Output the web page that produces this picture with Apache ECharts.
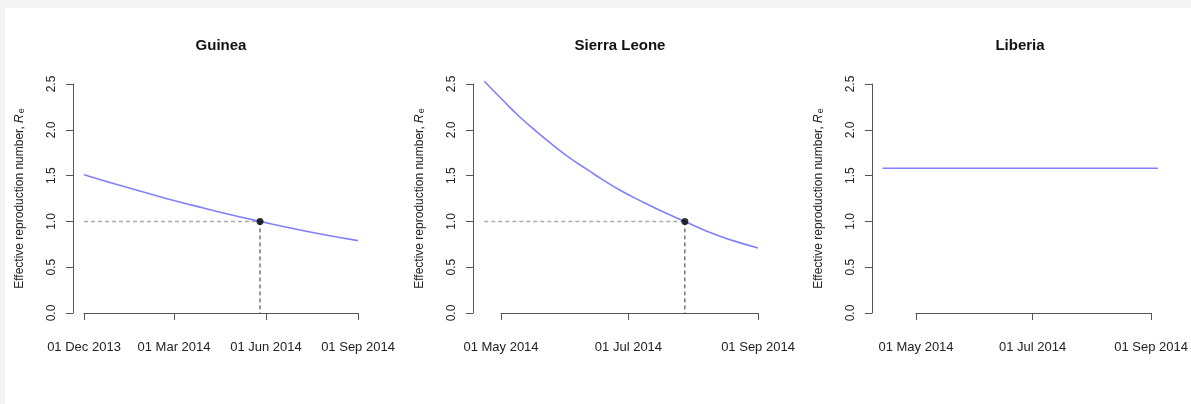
<!DOCTYPE html>
<html>
<head>
<meta charset="utf-8">
<title>Effective reproduction number</title>
<script src="https://cdn.jsdelivr.net/npm/echarts@6/dist/echarts.min.js"></script>
<style>
  body { margin: 0; background: #f4f4f4; }
  #frame { position: absolute; left: 5px; top: 8px; width: 1186px; height: 396px; background: #fff; }
  #main { position: absolute; left: 0; top: 0; width: 1191px; height: 404px; }
</style>
</head>
<body>
<div id="frame"></div>
<div id="main"></div>
<script>
// data
const titles = ['Guinea', 'Sierra Leone', 'Liberia'];

const guineaDates = ['2013-12-01', '2014-01-10', '2014-02-25', '2014-03-20', '2014-04-16', '2014-05-26', '2014-07-15', '2014-09-01'];
const guineaR = [1.51, 1.38, 1.24, 1.175, 1.10, 1.0, 0.885, 0.79];
const guineaCross = ['2014-05-26', 1.0];

const sierraDates = ['2014-04-23', '2014-05-02', '2014-05-10', '2014-05-18', '2014-05-26', '2014-06-03', '2014-06-11', '2014-06-19', '2014-06-27', '2014-07-08', '2014-07-18', '2014-07-28', '2014-08-10', '2014-08-20', '2014-09-01'];
const sierraR = [2.53, 2.32, 2.14, 1.98, 1.83, 1.69, 1.57, 1.45, 1.34, 1.21, 1.10, 1.0, 0.87, 0.79, 0.71];
const sierraCross = ['2014-07-28', 1.0];

const liberiaDates = ['2014-04-14', '2014-09-01'];
const liberiaR = [1.58, 1.58];

const guineaTicks = ['2013-12-01', '2014-03-01', '2014-06-01', '2014-09-01'];
const sierraTicks = ['2014-05-01', '2014-07-01', '2014-09-01'];
const liberiaTicks = ['2014-05-01', '2014-07-01', '2014-09-01'];
const yTicks = [0, 0.5, 1.0, 1.5, 2.0, 2.5];

const MONTHS = ['Jan', 'Feb', 'Mar', 'Apr', 'May', 'Jun', 'Jul', 'Aug', 'Sep', 'Oct', 'Nov', 'Dec'];
const FONT = 'Liberation Sans, Arial, sans-serif';
const TEXT = '#222';
const AXIS = '#555';

function fmtDate(v) {
  const d = new Date(v);
  return String(d.getUTCDate()).padStart(2, '0') + ' ' + MONTHS[d.getUTCMonth()] + ' ' + d.getUTCFullYear();
}
function pts(dates, vals) {
  return dates.map((d, i) => [Date.parse(d), vals[i]]);
}

// axis boxes (px): x axis runs first tick -> last tick, y axis 0 -> 2.5
const TOP = 84, HEIGHT = 229;
const boxes = [
  { left: 84, width: 274, yOff: 11, cx: 221 },
  { left: 501, width: 257, yOff: 28, cx: 620 },
  { left: 916, width: 242, yOff: 44, cx: 1020 }
];
const tickSets = [guineaTicks, sierraTicks, liberiaTicks];
const dateSets = [guineaDates, sierraDates, liberiaDates];

// R draws data outside the tick range, so each panel gets a second, hidden
// grid on the same scale that covers the whole data range
const Y_LO = -0.1, Y_HI = 2.7;
const dataBoxes = boxes.map((b, i) => {
  const t = tickSets[i].map(d => Date.parse(d));
  const dd = dateSets[i].map(d => Date.parse(d));
  const lo = Math.min(t[0], dd[0]);
  const hi = Math.max(t[t.length - 1], dd[dd.length - 1]);
  const pxMs = b.width / (t[t.length - 1] - t[0]);
  const pxY = HEIGHT / (yTicks[yTicks.length - 1] - yTicks[0]);
  return {
    min: lo, max: hi,
    left: b.left - (t[0] - lo) * pxMs,
    width: (hi - lo) * pxMs,
    top: TOP - (Y_HI - yTicks[yTicks.length - 1]) * pxY,
    height: (Y_HI - Y_LO) * pxY
  };
});

const option = {
  animation: false,
  textStyle: { fontFamily: FONT },
  title: titles.map((t, i) => ({
    text: t, left: boxes[i].cx, top: 38, textAlign: 'center', padding: 0,
    textStyle: { fontSize: 15, fontWeight: 'bold', color: '#111', fontFamily: FONT }
  })),
  grid: boxes.map(b => ({ left: b.left, top: TOP, width: b.width, height: HEIGHT }))
    .concat(dataBoxes.map(d => ({ left: d.left, top: d.top, width: d.width, height: d.height }))),
  xAxis: tickSets.map((ticks, i) => {
    const vals = ticks.map(d => Date.parse(d));
    return {
      type: 'value', gridIndex: i,
      min: vals[0], max: vals[vals.length - 1],
      offset: 10,
      axisLine: { lineStyle: { color: AXIS, width: 1 } },
      axisTick: { length: 7, customValues: vals, lineStyle: { color: AXIS } },
      axisLabel: { customValues: vals, formatter: fmtDate, margin: 18, fontSize: 13, color: TEXT, fontFamily: FONT },
      splitLine: { show: false }
    };
  }).concat(dataBoxes.map((d, i) => ({
    type: 'value', gridIndex: 3 + i, min: d.min, max: d.max, show: false
  }))),
  yAxis: boxes.map((b, i) => ({
    type: 'value', gridIndex: i, min: yTicks[0], max: yTicks[yTicks.length - 1], interval: 0.5,
    offset: b.yOff,
    name: 'Effective reproduction number, {i|R}{s|e}',
    nameLocation: 'middle', nameRotate: 90, nameGap: 47,
    nameTextStyle: {
      fontSize: 12, color: TEXT, fontFamily: FONT,
      rich: {
        i: { fontSize: 12, fontStyle: 'italic', color: TEXT, fontFamily: FONT },
        s: { fontSize: 9, color: TEXT, fontFamily: FONT, verticalAlign: 'bottom', padding: [3, 0, 0, 1] }
      }
    },
    axisLine: { show: true, lineStyle: { color: AXIS, width: 1 } },
    axisTick: { show: true, length: 7, lineStyle: { color: AXIS } },
    axisLabel: { rotate: 90, margin: 15, fontSize: 12, color: TEXT, fontFamily: FONT, formatter: v => v.toFixed(1) },
    splitLine: { show: false }
  })).concat(dataBoxes.map((d, i) => ({
    type: 'value', gridIndex: 3 + i, min: Y_LO, max: Y_HI, show: false
  }))),
  series: []
};

function curve(i, data) {
  return {
    type: 'line', xAxisIndex: 3 + i, yAxisIndex: 3 + i, data, showSymbol: false,
    smooth: 0.5, z: 2,
    lineStyle: { color: '#8080ff', width: 1.6 }
  };
}
function crossing(i, startDate, cross) {
  const cx = Date.parse(cross[0]);
  const ax = { xAxisIndex: 3 + i, yAxisIndex: 3 + i };
  return [
    Object.assign({
      type: 'line', showSymbol: false, z: 1,
      data: [[Date.parse(startDate), cross[1]], [cx, cross[1]]],
      lineStyle: { color: '#aaa', width: 1.5, type: [4, 3] }
    }, ax),
    Object.assign({
      type: 'line', showSymbol: false, z: 1,
      data: [[cx, cross[1]], [cx, yTicks[0]]],
      lineStyle: { color: '#333', width: 1, type: [4, 3] }
    }, ax),
    Object.assign({
      type: 'scatter', symbolSize: 7, z: 3,
      data: [[cx, cross[1]]], itemStyle: { color: '#000' }
    }, ax)
  ];
}

option.series.push(curve(0, pts(guineaDates, guineaR)));
option.series.push(...crossing(0, guineaDates[0], guineaCross));
option.series.push(curve(1, pts(sierraDates, sierraR)));
option.series.push(...crossing(1, sierraDates[0], sierraCross));
option.series.push(curve(2, pts(liberiaDates, liberiaR)));

const chart = echarts.init(document.getElementById('main'), null, { renderer: 'canvas' });
chart.setOption(option);
</script>
</body>
</html>
